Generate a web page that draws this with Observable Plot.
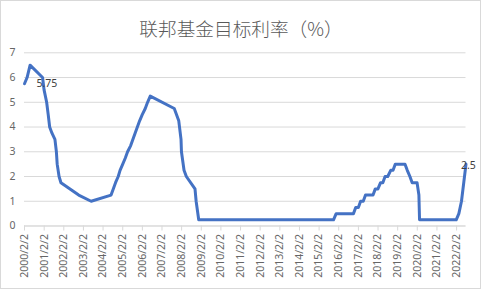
<!DOCTYPE html>
<html>
<head>
<meta charset="utf-8">
<script src="https://cdn.jsdelivr.net/npm/d3@7"></script>
<script src="https://cdn.jsdelivr.net/npm/@observablehq/plot@0.6"></script>
<style>
  html, body { margin: 0; padding: 0; background: #fff; }
  #chart { width: 479px; height: 287px; border: 1px solid #d9d9d9; background: #fff; overflow: hidden; }
  #chart svg { display: block; }
</style>
</head>
<body>
<div id="chart"></div>
<script>
const title = "联邦基金目标利率（%）";

const dates = [
  "2000-02-02","2000-03-21","2000-05-16","2001-01-03","2001-01-31","2001-03-20","2001-04-18",
  "2001-05-15","2001-06-27","2001-08-21","2001-09-17","2001-10-02","2001-11-06","2001-12-11",
  "2002-11-06","2003-06-25","2004-06-30","2004-08-10","2004-09-21","2004-11-10","2004-12-14",
  "2005-02-02","2005-03-22","2005-05-03","2005-06-30","2005-08-09","2005-09-20","2005-11-01",
  "2005-12-13","2006-01-31","2006-03-28","2006-05-10","2006-06-29","2007-09-18","2007-10-31",
  "2007-12-11","2008-01-22","2008-01-30","2008-03-18","2008-04-30","2008-10-08","2008-10-29",
  "2008-12-16","2015-10-28","2015-12-16","2016-11-02","2016-12-14","2017-02-01","2017-03-15",
  "2017-05-03","2017-06-14","2017-11-01","2017-12-13","2018-01-31","2018-03-21","2018-05-02",
  "2018-06-13","2018-08-01","2018-09-26","2018-11-08","2018-12-19","2019-06-19","2019-07-31",
  "2019-09-18","2019-10-30","2020-01-29","2020-03-03","2020-03-15","2022-01-26","2022-03-16",
  "2022-05-04","2022-06-15","2022-07-27"
];
const rates = [
  5.75, 6.0, 6.5, 6.0, 5.5, 5.0, 4.5,
  4.0, 3.75, 3.5, 3.0, 2.5, 2.0, 1.75,
  1.25, 1.0, 1.25, 1.5, 1.75, 2.0, 2.25,
  2.5, 2.75, 3.0, 3.25, 3.5, 3.75, 4.0,
  4.25, 4.5, 4.75, 5.0, 5.25, 4.75, 4.5,
  4.25, 3.5, 3.0, 2.25, 2.0, 1.5, 1.0,
  0.25, 0.25, 0.5, 0.5, 0.75, 0.75, 1.0,
  1.0, 1.25, 1.25, 1.5, 1.5, 1.75, 1.75,
  2.0, 2.0, 2.25, 2.25, 2.5, 2.5, 2.25,
  2.0, 1.75, 1.75, 1.25, 0.25, 0.25, 0.5,
  1.0, 1.75, 2.5
];

const xTickLabels = [
  "2000/2/2","2001/2/2","2002/2/2","2003/2/2","2004/2/2","2005/2/2","2006/2/2","2007/2/2",
  "2008/2/2","2009/2/2","2010/2/2","2011/2/2","2012/2/2","2013/2/2","2014/2/2","2015/2/2",
  "2016/2/2","2017/2/2","2018/2/2","2019/2/2","2020/2/2","2021/2/2","2022/2/2"
];
const yTicks = [0, 1, 2, 3, 4, 5, 6, 7];

// labelled points (first and last)
const labelIndex = [0, dates.length - 1];

const data = dates.map((d, i) => ({date: new Date(d + "T00:00:00Z"), rate: rates[i]}));
const parseLabel = s => { const [y, m, d] = s.split("/").map(Number); return new Date(Date.UTC(y, m - 1, d)); };
const xTicks = xTickLabels.map(parseLabel);
const labelByTime = new Map(xTicks.map((d, i) => [+d, xTickLabels[i]]));

const first = data[0], last = data[data.length - 1];

const chart = Plot.plot({
  width: 479,
  height: 287,
  marginLeft: 23,
  marginRight: 14.5,
  marginTop: 51.3,
  marginBottom: 62.5,
  x: {type: "utc", domain: [first.date, last.date]},
  y: {domain: [0, 7]},
  style: {fontFamily: "'Noto Sans', sans-serif", fontSize: "10.5px", color: "#595959", background: "#fff", overflow: "visible"},
  marks: [
    Plot.gridY(yTicks, {stroke: "#d9d9d9", strokeOpacity: 1}),
    Plot.axisY(yTicks, {tickSize: 0, tickPadding: 9, tickFormat: d => String(d), fill: "#666666", label: null}),
    Plot.axisX(xTicks, {tickRotate: -90, tickSize: 5, tickPadding: 3, tickFormat: d => labelByTime.get(+d), stroke: "#d9d9d9", fill: "#666666", strokeOpacity: 1, label: null}),
    Plot.ruleY([0], {stroke: "#d9d9d9"}),
    Plot.line(data, {x: "date", y: "rate", stroke: "#4472C4", strokeWidth: 3, strokeLinejoin: "round", strokeLinecap: "round"}),
    Plot.text([data[labelIndex[0]]], {x: "date", y: "rate", text: d => String(d.rate), textAnchor: "start", dx: 12, dy: 0, fill: "#404040", fontSize: 10.5}),
    Plot.text([data[labelIndex[1]]], {x: "date", y: "rate", text: d => String(d.rate), textAnchor: "start", dx: -5, dy: 1, fill: "#404040", fontSize: 10.5}),
    Plot.text([title], {frameAnchor: "top", dy: -29.6, dx: -4.25, fontSize: 18.67, fontWeight: 300, fontFamily: "'Noto Sans CJK SC', sans-serif", fill: "#595959"})
  ]
});
document.getElementById("chart").appendChild(chart);
</script>
</body>
</html>
